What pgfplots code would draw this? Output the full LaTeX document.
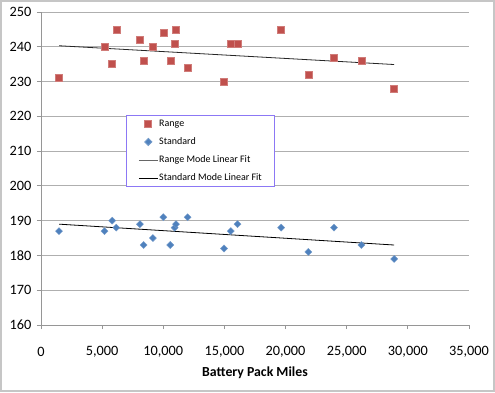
\documentclass[border=0pt]{standalone}
\usepackage{pgfplots}
\pgfplotsset{compat=1.18}
\usepackage{fontspec}
\setmainfont{Carlito}
\definecolor{rangered}{RGB}{192,80,77}
\definecolor{stdblue}{RGB}{79,129,189}
\definecolor{gridgray}{RGB}{175,175,175}
\definecolor{axgray}{RGB}{150,150,150}
\definecolor{legpurple}{RGB}{140,120,245}
\pgfplotsset{
  markleg/.style={legend image code/.code={\draw[##1, only marks] plot coordinates {(9.5pt,0pt)};}},
  lineleg/.style={legend image code/.code={\draw[##1] (0pt,0pt) -- (19pt,0pt);}},
  greylineleg/.style={legend image code/.code={\draw[##1, black!60] (0pt,0pt) -- (19pt,0pt);}},
}
\begin{document}
\begin{tikzpicture}[x=1pt,y=1pt]
\useasboundingbox (0,0) rectangle (495,392);
\fill[white] (0,0) rectangle (495,392);
\draw[gray!45, line width=2pt] (1,1) rectangle (494,391);
\begin{axis}[
  at={(41pt,67pt)}, anchor=south west,
  scale only axis, width=428pt, height=313pt,
  xmin=0, xmax=35000, ymin=160, ymax=250,
  xtick={0,5000,...,35000}, ytick={160,170,...,250},
  axis lines*=left,
  ymajorgrids, grid style={gridgray, line width=1pt},
  tick align=outside, major tick length=4pt,
  tick style={axgray, line width=0.8pt},
  axis line style={axgray, line width=0.8pt},
  scaled x ticks=false,
  /pgf/number format/assume math mode=true,
  /pgf/number format/1000 sep={,},
  ticklabel style={font=\fontsize{14.3}{16}\selectfont},
  xticklabel style={anchor=center, yshift=-23pt},
  yticklabel style={anchor=east, xshift=-2pt},
  xlabel={Battery Pack Miles},
  xlabel style={font=\fontsize{13.8}{15}\selectfont\bfseries, at={(axis description cs:0.5,0)}, anchor=center, yshift=-47.7pt},
  legend cell align=left,
  legend style={at={(0.1986,0.671)}, anchor=north west, draw=legpurple, line width=0.9pt,
    font=\fontsize{10}{11}\selectfont, inner xsep=12pt, inner ysep=3pt,
    nodes={inner sep=1pt, text height=7pt, text depth=2pt}, row sep=7pt},
]
\addplot[only marks, mark=square*, mark size=3.5pt, color=rangered, mark options={draw=rangered!75!white, fill=rangered}, markleg]
coordinates {(1475,231)(5190,240)(5820,235)(6150,245)(8090,242)(8390,236)(9150,240)(10000,244)(10570,236)(10930,241)(11040,245)(11990,234)(14970,230)(15520,241)(16070,241)(19640,245)(21860,232)(23960,237)(26200,236)(28880,228)};
\addlegendentry{Range}
\addplot[only marks, mark=square*, mark size=2.5pt, color=stdblue, mark options={rotate=45, draw=stdblue!80!white, fill=stdblue}, markleg]
coordinates {(1475,187)(5190,187)(5820,190)(6150,188)(8090,189)(8390,183)(9150,185)(10000,191)(10570,183)(10930,188)(11040,189)(11990,191)(14970,182)(15520,187)(16070,189)(19640,188)(21860,181)(23960,188)(26200,183)(28880,179)};
\addlegendentry{Standard}
\addplot[black!85, line width=0.8pt, no marks, greylineleg]
coordinates {(1475,240.3)(28880,234.9)};
\addlegendentry{Range Mode Linear Fit}
\addplot[black, line width=0.8pt, no marks, lineleg]
coordinates {(1475,189.0)(28880,183.0)};
\addlegendentry{Standard Mode Linear Fit}
\end{axis}
\end{tikzpicture}
\end{document}
